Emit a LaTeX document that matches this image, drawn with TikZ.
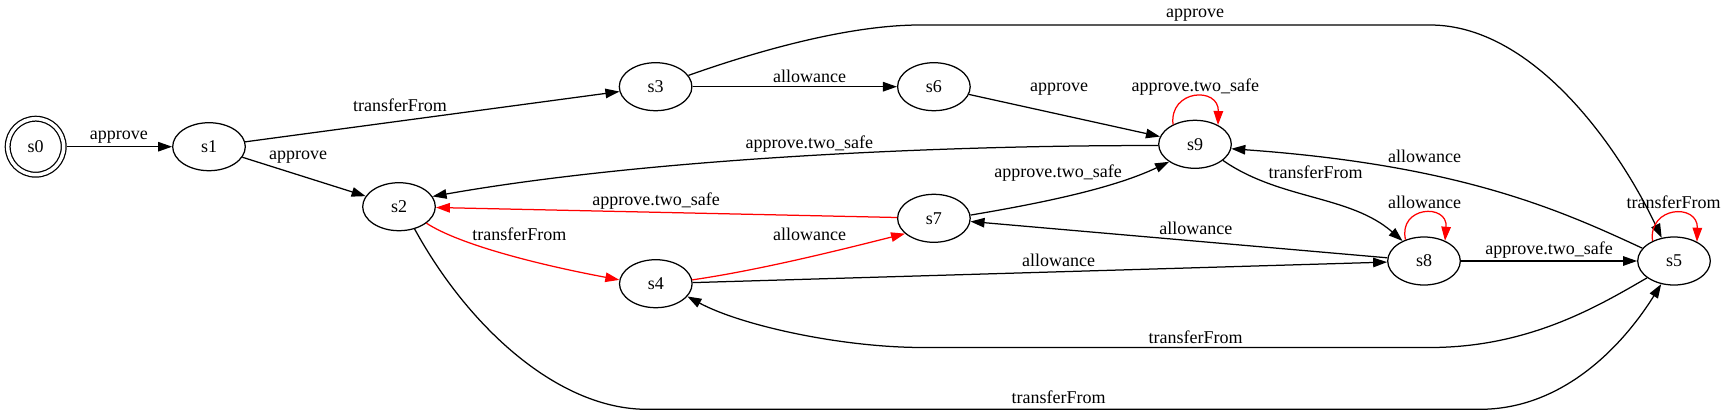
\documentclass[tikz,border=0pt]{standalone}
\usepackage{fontspec}
\setmainfont{Liberation Serif}
\newfontfamily\timesfam{Liberation Serif}
\usetikzlibrary{arrows.meta,shapes.geometric}
\begin{document}
\begin{tikzpicture}[x=1pt,y=-1pt,
  txt/.style={font=\timesfam\fontsize{18}{20}\selectfont},
  st/.style={ellipse, draw, line width=1.25pt, minimum width=72.6pt, minimum height=48pt, inner sep=0pt, txt},
  acc/.style={circle, draw, double, double distance=3.5pt, line width=1.25pt, minimum size=56pt, inner sep=0pt, outer sep=3pt, txt},
  lab/.style={inner sep=0pt, txt},
  e/.style={line width=1.25pt, -{Triangle[length=14pt,width=9.5pt]}},
  re/.style={e, red}]
\useasboundingbox (0,0) rectangle (1728,415);
% states
\node[acc] (s0) at (35.7,146.7) {s0};
\node[st] (s1) at (209,146.7) {s1};
\node[st] (s2) at (399,206.7) {s2};
\node[st] (s3) at (655.6,86.7) {s3};
\node[st] (s4) at (655.8,283.7) {s4};
\node[st] (s6) at (933.9,86.7) {s6};
\node[st] (s7) at (933.9,218.3) {s7};
\node[st] (s9) at (1195,144.3) {s9};
\node[st] (s8) at (1424,261) {s8};
\node[st] (s5) at (1674,261) {s5};
% edges
\draw[e] (s0) -- (s1);
\draw[e] (s1) -- (s3);
\draw[e] (s1) -- (s2);
\draw[e] (s3) -- (s6);
\draw[e] (s3.19) .. controls (760,50) and (850,25) .. (920,25) -- (1430,25) .. controls (1530,25) and (1615,140) .. (s5.118);
\draw[e] (s6) -- (s9);
\draw[re] (s9.138) .. controls (1169,89.3) and (1219,86.3) .. (s9.40);
\draw[e] (s9.182) .. controls (950,145) and (650,158) .. (s2.17);
\draw[re] (s7) -- (s2);
\draw[re] (s2.-31) .. controls (460,245) and (540,265) .. (s4.174);
\draw[re] (s4.6) .. controls (760,270) and (840,250) .. (s7.-152);
\draw[e] (s4) -- (s8);
\draw[e] (s7.5) .. controls (1030,205) and (1110,190) .. (s9.-146);
\draw[e] (s8) -- (s7);
\draw[e] (s9.-30) .. controls (1280,200) and (1350,195) .. (s8.137);
\draw[re] (s8.131) .. controls (1398,206) and (1448,203) .. (s8.44);
\draw[e] (s8) -- (s5);
\draw[e] (s5.158) .. controls (1560,210) and (1460,165) .. (s9.-7);
\draw[re] (s5.137) .. controls (1648,206) and (1698,203) .. (s5.40);
\draw[e] (s5.-148) .. controls (1600,305) and (1530,347.5) .. (1430,347.5) -- (923,347.5) .. controls (840,347.5) and (740,325) .. (s4.-22);
\draw[e] (s2.-55) .. controls (470,330) and (560,409.3) .. (646.7,409.3) -- (1480,409.3) .. controls (1560,409.3) and (1620,350) .. (s5.-119);
% labels
\node[lab] (l01) at (118.8,137) {approve};
\node[lab] (l02) at (400,105) {transferFrom};
\node[lab] (l03) at (298,157.3) {approve};
\node[lab] (l04) at (809.5,76.7) {allowance};
\node[lab] (l05) at (1195,15) {approve};
\node[lab] (l06) at (1059,89.3) {approve};
\node[lab] (l07) at (1195.3,86.7) {approve.two\_safe};
\node[lab] (l08) at (809.3,144.3) {approve.two\_safe};
\node[lab] (l09) at (656.2,201) {approve.two\_safe};
\node[lab] (l10) at (519.4,234.3) {transferFrom};
\node[lab] (l11) at (809.6,234.3) {allowance};
\node[lab] (l12) at (1058,172.7) {approve.two\_safe};
\node[lab] (l13) at (1315.5,172.7) {transferFrom};
\node[lab] (l14) at (1195.8,228.3) {allowance};
\node[lab] (l15) at (1058.7,260) {allowance};
\node[lab] (l16) at (1424.5,156.7) {allowance};
\node[lab] (l17) at (1424.5,202.3) {allowance};
\node[lab] (l18) at (1549,250) {approve.two\_safe};
\node[lab] (l19) at (1673.7,202.3) {transferFrom};
\node[lab] (l20) at (1195.5,337.3) {transferFrom};
\node[lab] (l21) at (1058.7,397.3) {transferFrom};
\end{tikzpicture}
\end{document}
